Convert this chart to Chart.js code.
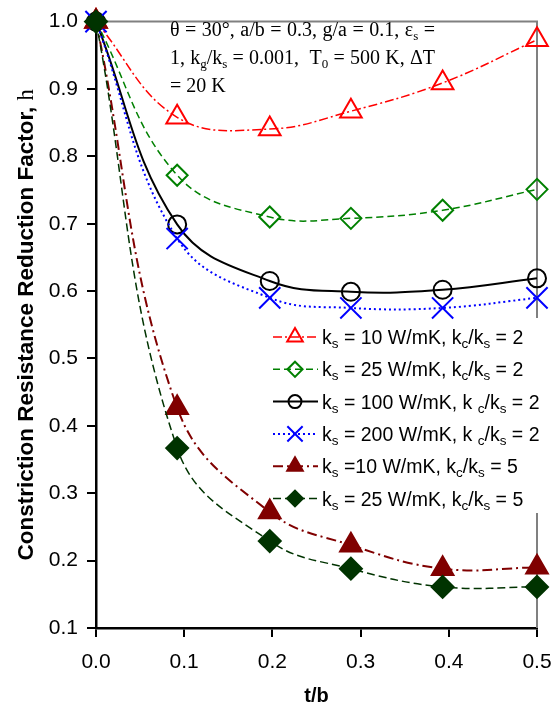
<!DOCTYPE html>
<html>
<head>
<meta charset="utf-8">
<script src="https://cdn.jsdelivr.net/npm/chart.js@4"></script>
<style>
  html, body { margin: 0; padding: 0; background: #fff; }
  #myChart { display: block; }
</style>
</head>
<body>
<canvas id="myChart" width="554" height="708"></canvas>
<script>
// t/b positions of the computed points
const tb = [0, 0.092, 0.197, 0.289, 0.393, 0.5];

// h values
const hKs10 = [1.0, 0.858, 0.8405, 0.867, 0.909, 0.973];
const hKs25 = [1.0, 0.772, 0.71, 0.708, 0.72, 0.751];
const hKs100 = [1.0, 0.699, 0.615, 0.599, 0.602, 0.619];
const hKs200 = [1.0, 0.678, 0.59, 0.575, 0.575, 0.59];
const hKs10r5 = [1.0, 0.427, 0.272, 0.223, 0.188, 0.19];
const hKs25r5 = [1.0, 0.367, 0.229, 0.188, 0.161, 0.161];

// texts ("_x" = subscript x)
const legendLabels = [
  "k_s = 10 W/mK, k_c/k_s = 2",
  "k_s = 25 W/mK, k_c/k_s = 2",
  "k_s = 100 W/mK, k _c/k_s = 2",
  "k_s = 200 W/mK, k _c/k_s = 2",
  "k_s =10 W/mK, k_c/k_s = 5",
  "k_s = 25 W/mK, k_c/k_s = 5",
];
const noteLines = [
  "θ = 30°, a/b = 0.3, g/a = 0.1, ε_s =",
  "1, k_g/k_s = 0.001,  T_0 = 500 K, ΔT",
  "= 20 K",
];
const xTitle = "t/b";
const yTitle = "Constriction Resistance Reduction Factor, ";
const yTitleSymbol = "h";

const SANS = "'Liberation Sans', Arial, sans-serif";
const SERIF = "'Liberation Serif', 'Times New Roman', serif";

// estilos de cada serie
const looks = [
  { data: hKs10, color: "#ff0000", dash: [9, 3, 2, 3], lw: 1.5, shape: "triangle", r: 12.5, fill: false, order: 6 },
  { data: hKs25, color: "#008000", dash: [7, 4], lw: 1.5, shape: "rectRot", r: 10.5, fill: false, order: 5 },
  { data: hKs100, color: "#000000", dash: [], lw: 2, shape: "circle", r: 9, fill: false, order: 4 },
  { data: hKs200, color: "#0000ff", dash: [2, 3], lw: 2, shape: "crossRot", r: 15, fill: false, order: 3 },
  { data: hKs10r5, color: "#800000", dash: [10, 4, 2, 4], lw: 2, shape: "triangle", r: 12.5, fill: true, order: 2 },
  { data: hKs25r5, color: "#003300", dash: [8, 4], lw: 1.5, shape: "rectRot", r: 11, fill: true, order: 1 },
];

// draws text with "_x" subscripts; spaceExtra widens every space (justify)
function drawRich(ctx, str, x, y, size, family, subSize, subDy, spaceExtra, measureOnly) {
  let cx = x;
  for (let i = 0; i < str.length; i++) {
    let ch = str[i];
    let sub = false;
    if (ch === "_" && i + 1 < str.length) {
      sub = true;
      ch = str[++i];
    }
    ctx.font = (sub ? subSize : size) + "px " + family;
    if (!measureOnly) ctx.fillText(ch, cx, y + (sub ? subDy : 0));
    cx += ctx.measureText(ch).width;
    if (ch === " " && spaceExtra) cx += spaceExtra;
  }
  return cx - x;
}

function drawMarker(ctx, shape, x, y, r, color, fill, lw) {
  ctx.save();
  ctx.setLineDash([]);
  ctx.lineWidth = lw;
  ctx.strokeStyle = color;
  ctx.fillStyle = color;
  ctx.beginPath();
  if (shape === "triangle") {
    ctx.moveTo(x, y - r);
    ctx.lineTo(x + r * 0.866, y + r / 2);
    ctx.lineTo(x - r * 0.866, y + r / 2);
    ctx.closePath();
  } else if (shape === "rectRot") {
    ctx.moveTo(x - r, y);
    ctx.lineTo(x, y - r);
    ctx.lineTo(x + r, y);
    ctx.lineTo(x, y + r);
    ctx.closePath();
  } else if (shape === "circle") {
    ctx.arc(x, y, r, 0, Math.PI * 2);
  } else {
    const d = r * 0.7071;
    ctx.moveTo(x - d, y - d);
    ctx.lineTo(x + d, y + d);
    ctx.moveTo(x + d, y - d);
    ctx.lineTo(x - d, y + d);
  }
  if (fill) ctx.fill();
  ctx.stroke();
  ctx.restore();
}

const extras = {
  id: "extras",
  beforeDatasetsDraw(chart) {
    const { ctx, chartArea: a } = chart;
    ctx.save();
    ctx.strokeStyle = "#808080";
    ctx.lineWidth = 2;
    ctx.beginPath();
    ctx.moveTo(a.left, a.top);
    ctx.lineTo(a.right, a.top);
    ctx.lineTo(a.right, a.bottom);
    ctx.stroke();
    // fondo blanco de la leyenda (tapa el marco derecho)
    ctx.fillStyle = "#fff";
    ctx.fillRect(266, 318, 288, 195);
    ctx.restore();
  },
  afterDatasetsDraw(chart) {
    const { ctx, chartArea: a } = chart;
    ctx.save();
    ctx.fillStyle = "#000";
    ctx.textBaseline = "alphabetic";
    ctx.textAlign = "left";

    // nota de parametros (justificada menos la ultima linea)
    noteLines.forEach((t, i) => {
      let extra = 0;
      if (i < noteLines.length - 1) {
        const w = drawRich(ctx, t, 0, 0, 20, SERIF, 13, 4, 0, true);
        const spaces = t.split(" ").length - 1;
        extra = Math.max(0, (265 - w) / spaces);
      }
      drawRich(ctx, t, 170, 36 + i * 28, 20, SERIF, 13, 4, extra);
    });

    // leyenda
    looks.forEach((s, i) => {
      const yc = 337 + i * 32.3;
      ctx.save();
      ctx.strokeStyle = s.color;
      ctx.lineWidth = s.lw;
      ctx.setLineDash(s.dash);
      ctx.beginPath();
      ctx.moveTo(273, yc);
      ctx.lineTo(318, yc);
      ctx.stroke();
      ctx.restore();
      drawMarker(ctx, s.shape, 295, yc, s.r * 0.72, s.color, s.fill, 2);
      ctx.fillStyle = "#000";
      drawRich(ctx, legendLabels[i], 322, yc + 7, 19.5, SANS, 13.5, 4);
    });

    // titulos de ejes
    ctx.fillStyle = "#000";
    ctx.textAlign = "left";
    ctx.font = "bold 20px " + SANS;
    const wx = ctx.measureText(xTitle).width;
    ctx.fillText(xTitle, (a.left + a.right) / 2 - wx / 2, 702);

    ctx.translate(33, (a.top + a.bottom) / 2);
    ctx.rotate(-Math.PI / 2);
    ctx.font = "bold 22.5px " + SANS;
    const w1 = ctx.measureText(yTitle).width;
    ctx.font = "22.5px " + SERIF;
    const w2 = ctx.measureText(yTitleSymbol).width;
    let x0 = -(w1 + w2) / 2;
    ctx.font = "bold 22.5px " + SANS;
    ctx.fillText(yTitle, x0, 0);
    ctx.font = "22.5px " + SERIF;
    ctx.fillText(yTitleSymbol, x0 + w1, 0);
    ctx.restore();
  },
};

const ctx = document.getElementById("myChart").getContext("2d");
new Chart(ctx, {
  type: "line",
  data: {
    datasets: looks.map((s, i) => ({
      label: legendLabels[i],
      data: tb.map((x, j) => ({ x: x, y: s.data[j] })),
      borderColor: s.color,
      borderWidth: s.lw,
      borderDash: s.dash,
      backgroundColor: s.fill ? s.color : "rgba(0,0,0,0)",
      pointStyle: s.shape,
      pointRadius: s.r,
      pointBorderWidth: 2,
      pointBorderColor: s.color,
      pointBackgroundColor: s.fill ? s.color : "rgba(0,0,0,0)",
      tension: 0.4,
      fill: false,
      clip: false,
      order: s.order,
    })),
  },
  options: {
    responsive: false,
    animation: false,
    devicePixelRatio: 1,
    layout: { padding: { top: 19, right: 0, left: 0, bottom: 0 } },
    plugins: {
      legend: { display: false },
      tooltip: { enabled: false },
    },
    scales: {
      x: {
        type: "linear",
        min: 0,
        max: 0.5,
        afterFit(scale) {
          scale.height = 80;
          scale.paddingLeft = 0;
          scale.paddingRight = 16;
        },
        ticks: {
          stepSize: 0.1,
          callback: (v) => v.toFixed(1),
          font: { family: SANS, size: 21 },
          color: "#000",
          padding: 13,
          maxRotation: 0,
        },
        grid: { drawOnChartArea: false, drawTicks: true, tickLength: 9, color: "#000", lineWidth: 2 },
        border: { color: "#000", width: 2.5 },
      },
      y: {
        type: "linear",
        min: 0.1,
        max: 1.0,
        afterFit(scale) { scale.width = 96; },
        ticks: {
          stepSize: 0.1,
          callback: (v) => v.toFixed(1),
          font: { family: SANS, size: 21 },
          color: "#000",
          padding: 9,
        },
        grid: { drawOnChartArea: false, drawTicks: true, tickLength: 9, color: "#000", lineWidth: 2 },
        border: { color: "#000", width: 2.5 },
      },
    },
  },
  plugins: [extras],
});
</script>
</body>
</html>
